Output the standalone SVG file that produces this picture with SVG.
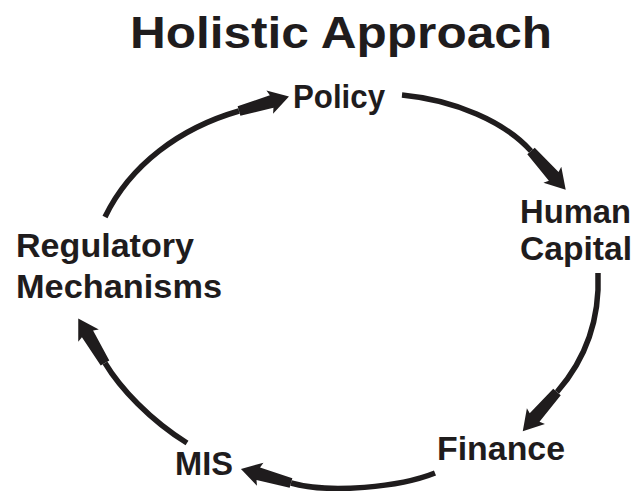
<svg xmlns="http://www.w3.org/2000/svg" width="640" height="491" viewBox="0 0 640 491">
<style>
.t{font-family:"Liberation Sans",Arial,sans-serif;font-weight:bold;fill:#1f1c1d}
.lbl{font-size:33px}
.title{font-size:45px}
.arc{fill:none;stroke:#1f1c1d;stroke-width:5.5}
</style>
<defs>
<marker id="ah" markerUnits="userSpaceOnUse" orient="auto" refX="0" refY="0" markerWidth="60" markerHeight="30" overflow="visible">
<path d="M52,0 L32,-12 L34,-6.5 L0,-5 L0,5 L34,6.5 L32,12 Z" fill="#1f1c1d"/>
</marker>
</defs>
<rect width="640" height="491" fill="#fff"/>
<text class="t title" x="130" y="48" textLength="422" lengthAdjust="spacingAndGlyphs">Holistic Approach</text>
<g id="connectors">
<path class="arc" marker-end="url(#ah)" d="M105,217 C130,165 180,128 239,111"/>
<path class="arc" marker-end="url(#ah)" d="M402,95 C455,100 505,122 531,151"/>
<path class="arc" marker-end="url(#ah)" d="M598,273 C600,320 585,360 557,392"/>
<path class="arc" marker-end="url(#ah)" d="M435,473 C400,487 330,494 291,483"/>
<path class="arc" marker-end="url(#ah)" d="M187,443 C150,420 120,388 105,363"/>
</g>
<g id="policy"><text class="t lbl" x="293" y="108" textLength="92" lengthAdjust="spacingAndGlyphs">Policy</text></g>
<g id="human-capital"><text class="t lbl" x="520" y="223" textLength="111" lengthAdjust="spacingAndGlyphs">Human</text><text class="t lbl" x="520" y="260" textLength="112" lengthAdjust="spacingAndGlyphs">Capital</text></g>
<g id="finance"><text class="t lbl" x="437" y="460" textLength="128" lengthAdjust="spacingAndGlyphs">Finance</text></g>
<g id="mis"><text class="t lbl" x="175" y="475" textLength="58" lengthAdjust="spacingAndGlyphs">MIS</text></g>
<g id="regulatory-mechanisms"><text class="t lbl" x="16" y="257" textLength="178" lengthAdjust="spacingAndGlyphs">Regulatory</text><text class="t lbl" x="16" y="298" textLength="206" lengthAdjust="spacingAndGlyphs">Mechanisms</text></g>
</svg>
